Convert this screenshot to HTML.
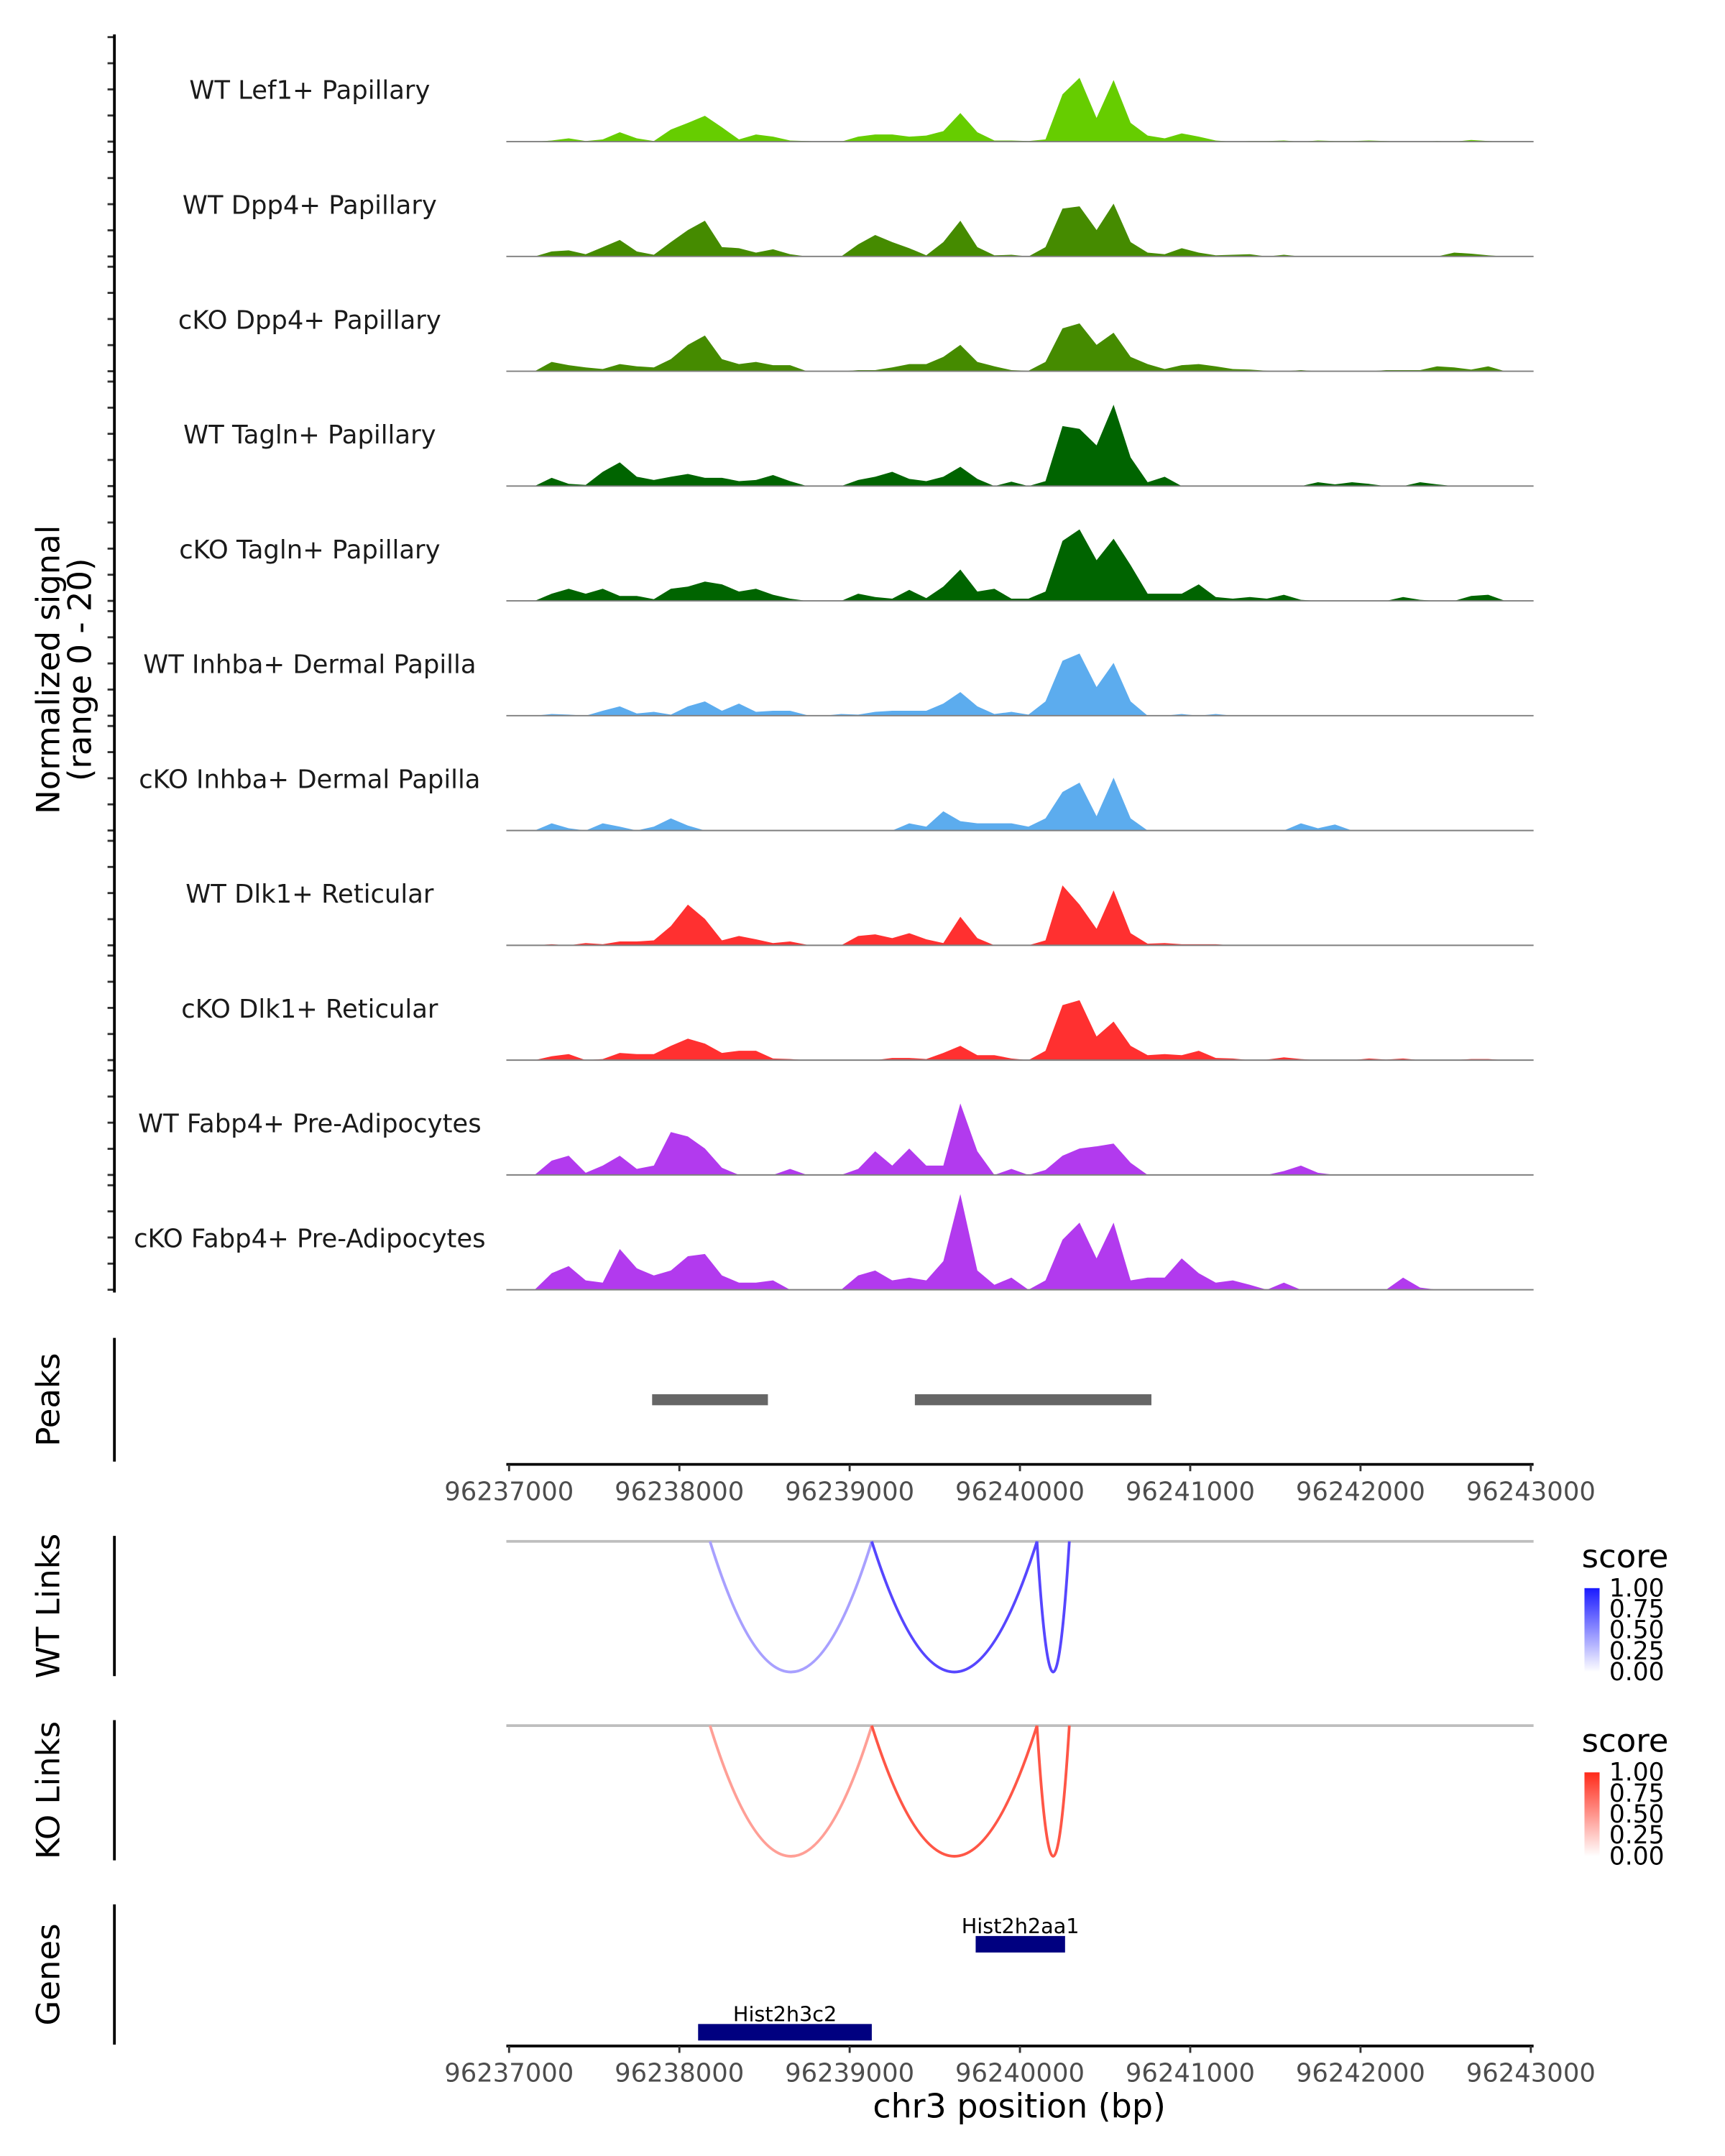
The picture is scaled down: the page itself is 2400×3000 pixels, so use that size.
<!DOCTYPE html>
<html><head><meta charset="utf-8"><style>
html,body{margin:0;padding:0;background:#fff;}
svg{display:block;font-family:"DejaVu Sans","Liberation Sans",sans-serif;}
</style></head><body>
<svg id="chart" width="2400" height="3000" viewBox="0 0 1254 1568" xmlns="http://www.w3.org/2000/svg">
<rect x="0" y="0" width="1254" height="1568" fill="#fff"/>
<g id="tracks"></g>
<line x1="83" y1="25" x2="83" y2="940" stroke="#000" stroke-width="2"/>
<text transform="translate(43,487) rotate(-90)" text-anchor="middle" font-size="23.5" fill="#000">Normalized signal</text>
<text transform="translate(66,487) rotate(-90)" text-anchor="middle" font-size="23.5" fill="#000">(range 0 - 20)</text>
<g id="peaks"></g>
<line x1="83" y1="973" x2="83" y2="1063" stroke="#000" stroke-width="2"/>
<text transform="translate(43,1018) rotate(-90)" text-anchor="middle" font-size="23.5">Peaks</text>
<g id="axis1"></g>
<g id="links"></g>
<line x1="83" y1="1117" x2="83" y2="1219" stroke="#000" stroke-width="2"/>
<text transform="translate(43,1168) rotate(-90)" text-anchor="middle" font-size="23.5">WT Links</text>
<line x1="83" y1="1251" x2="83" y2="1353" stroke="#000" stroke-width="2"/>
<text transform="translate(43,1302) rotate(-90)" text-anchor="middle" font-size="23.5">KO Links</text>
<defs>
<linearGradient id="gBlue" x1="0" y1="1" x2="0" y2="0"><stop offset="0" stop-color="#ffffff"/><stop offset="1" stop-color="#1a1aff"/></linearGradient>
<linearGradient id="gRed" x1="0" y1="1" x2="0" y2="0"><stop offset="0" stop-color="#ffffff"/><stop offset="1" stop-color="#ff2a1a"/></linearGradient>
</defs>
<g id="legends"></g>
<g id="genes"></g>
<line x1="83" y1="1385" x2="83" y2="1487" stroke="#000" stroke-width="2"/>
<text transform="translate(43,1436) rotate(-90)" text-anchor="middle" font-size="23.5">Genes</text>
<g id="axis2"></g>
<text x="741" y="1540" text-anchor="middle" font-size="24">chr3 position (bp)</text>
</svg>
<script>
const trackNames = ["WT Lef1+ Papillary","WT Dpp4+ Papillary","cKO Dpp4+ Papillary","WT Tagln+ Papillary","cKO Tagln+ Papillary","WT Inhba+ Dermal Papilla","cKO Inhba+ Dermal Papilla","WT Dlk1+ Reticular","cKO Dlk1+ Reticular","WT Fabp4+ Pre-Adipocytes","cKO Fabp4+ Pre-Adipocytes"];
const trackColors = ["#66cd00","#458b00","#458b00","#006400","#006400","#5cacee","#5cacee","#ff3030","#ff3030","#b23aee","#b23aee"];
const binStart = 96237000;
const binSize = 100;
const sigLef1 = [0,0,0.2,0.6,0.1,0.4,1.7,0.6,0.1,2.2,3.4,4.7,2.6,0.4,1.3,0.9,0.2,0.1,0,0,0.9,1.3,1.3,0.9,1.1,1.9,5.2,1.7,0.2,0.2,0.1,0.4,8.6,11.6,4.3,11.2,3.4,1.1,0.6,1.5,0.9,0.2,0,0.1,0.1,0.2,0,0.2,0.1,0.1,0.2,0.1,0,0,0.1,0,0.3,0.1,0,0];
const sigWtDpp4 = [0,0,0.9,1.1,0.4,1.7,3,0.9,0.3,2.6,4.8,6.5,1.7,1.5,0.7,1.3,0.4,0,0,0,2.2,3.9,2.6,1.5,0.2,2.6,6.5,1.7,0.2,0.3,0,1.7,8.7,9.1,4.8,9.6,2.6,0.7,0.4,1.5,0.7,0.2,0.3,0.4,0,0.3,0,0,0,0,0,0,0,0,0,0.7,0.5,0.2,0,0];
const sigKoDpp4 = [0,0,1.7,1.1,0.7,0.4,1.3,0.9,0.7,2.2,4.8,6.5,2.2,1.3,1.7,1.1,1.1,0,0,0,0.2,0.2,0.7,1.3,1.3,2.6,4.8,1.7,0.9,0.2,0.1,1.7,7.8,8.7,4.8,7,2.6,1.3,0.4,1.1,1.3,0.9,0.4,0.3,0.1,0,0.2,0,0,0,0,0.2,0.2,0.2,0.9,0.7,0.3,0.9,0,0];
const sigWtTagln = [0,0,1.5,0.4,0.2,2.6,4.3,1.7,1.1,1.7,2.2,1.5,1.5,0.9,1.1,2,0.9,0,0,0,1.1,1.7,2.6,1.3,0.9,1.7,3.5,1.3,0,0.8,0,0.9,10.9,10.4,7.4,14.8,5.2,0.7,1.7,0,0,0,0,0,0,0,0,0.7,0.3,0.7,0.4,0,0,0.7,0.3,0,0,0,0,0];
const sigKoTagln = [0,0,1.3,2.2,1.3,2.2,0.9,0.9,0.3,2.2,2.6,3.5,3,1.7,2.2,1.1,0.4,0,0,0,1.3,0.7,0.4,2,0.5,2.6,5.7,1.7,2.2,0.4,0.4,1.7,10.9,13,7.4,11.3,6.5,1.3,1.3,1.3,3,0.7,0.4,0.7,0.4,1.1,0.2,0,0,0,0,0,0.7,0.2,0,0,0.9,1.1,0,0];
const sigWtInhba = [0,0,0.3,0.2,0,0.9,1.7,0.4,0.7,0.2,1.7,2.6,0.9,2.2,0.7,0.9,0.9,0.1,0,0.3,0.2,0.7,0.9,0.9,0.9,2.2,4.3,1.7,0.3,0.7,0.2,2.6,10,11.3,5.2,9.6,2.6,0,0,0.3,0,0.3,0,0,0,0,0,0,0,0,0,0,0,0,0,0,0,0,0,0];
const sigKoInhba = [0,0,1.3,0.4,0,1.3,0.7,0,0.7,2.2,0.9,0,0,0,0,0,0,0,0,0,0,0,0,1.3,0.7,3.5,1.7,1.3,1.3,1.3,0.7,2.2,7,8.7,2.6,9.6,2.2,0,0,0,0,0,0,0,0,0,1.3,0.4,1.1,0,0,0,0,0,0,0,0,0,0,0];
const sigWtDlk1 = [0,0,0.2,0,0.4,0.2,0.7,0.7,0.9,3.5,7.4,4.8,0.9,1.7,1.1,0.4,0.7,0.1,0,0,1.7,2,1.3,2.2,1.1,0.4,5.2,1.3,0,0,0,0.9,10.9,7.4,3,10,2.2,0.3,0.4,0.2,0.2,0.2,0,0,0,0,0,0,0,0,0,0,0,0,0,0,0,0,0,0];
const sigKoDlk1 = [0,0,0.7,1.1,0,0.2,1.3,1.1,1.1,2.6,3.9,3,1.3,1.7,1.7,0.3,0.2,0,0,0,0,0,0.4,0.4,0.2,1.3,2.6,0.9,0.9,0.3,0,1.7,10,10.9,4.3,7,2.6,0.9,1.1,0.9,1.7,0.4,0.3,0,0.1,0.5,0.2,0,0,0,0.3,0.1,0.3,0,0,0,0.2,0.2,0,0];
const sigWtFabp4 = [0,0,2.6,3.5,0.4,1.7,3.5,1.1,1.7,7.8,7,4.8,1.3,0,0,0,1.1,0,0,0,1.1,4.3,1.7,4.8,1.7,1.7,13,4.3,0,1.1,0,0.9,3.5,4.8,5.2,5.7,2.2,0,0,0,0,0,0,0,0,0.7,1.7,0.4,0,0,0,0,0,0,0,0,0,0,0,0];
const sigKoFabp4 = [0,0,3,4.3,1.7,1.3,7.4,3.9,2.6,3.5,6.1,6.5,2.6,1.3,1.3,1.7,0,0,0,0,2.6,3.5,1.7,2.2,1.7,5.2,17.4,3.5,0.9,2.2,0,1.7,9.1,12.2,5.7,12.2,1.7,2.2,2.2,5.7,3,1.3,1.7,0.9,0,1.3,0,0,0,0,0,0,2.2,0.4,0,0,0,0,0,0];
const signals = [sigLef1,sigWtDpp4,sigKoDpp4,sigWtTagln,sigKoTagln,sigWtInhba,sigKoInhba,sigWtDlk1,sigKoDlk1,sigWtFabp4,sigKoFabp4];
const xTicks = [96237000,96238000,96239000,96240000,96241000,96242000,96243000];
const peakStarts = [96237840,96239383];
const peakEnds = [96238520,96240772];
const linkStarts = [96238180,96239130,96240100];
const linkEnds = [96239130,96240100,96240290];
const wtScores = [0.3,0.75,0.75];
const koScores = [0.35,0.75,0.75];
const legendTicks = [1.00,0.75,0.50,0.25,0.00];
const geneNames = ["Hist2h2aa1","Hist2h3c2"];
const geneStarts = [96239740,96238110];
const geneEnds = [96240265,96239130];
const geneRows = [0,1];

const NS="http://www.w3.org/2000/svg";
function mk(tag,attrs,parent){const e=document.createElementNS(NS,tag);for(const k in attrs)e.setAttribute(k,attrs[k]);parent.appendChild(e);return e;}
function xs(bp){return 370+(bp-96237000)*0.12383;}
const trackSpacing=83.5, yScale=80/20;
function yBase(i){return 103+i*trackSpacing;}

const gT=document.getElementById('tracks');
signals.forEach((vals,i)=>{
  const b=yBase(i);
  let d='M'+xs(binStart)+','+b;
  vals.forEach((v,j)=>{const x=xs(binStart+(j+0.5)*binSize);d+=' L'+x.toFixed(2)+','+(b-v*yScale).toFixed(2);});
  d+=' L'+xs(binStart+vals.length*binSize)+','+b+' Z';
  const p=mk('path',{d:d,fill:trackColors[i]},gT);
  
  
  const l=mk('line',{x1:368,x2:1115,y1:b,y2:b,stroke:'#7f7f7f','stroke-width':1},gT);
  
  
  const t=mk('text',{x:225,y:b-31,'text-anchor':'middle','font-size':18.5,fill:'#1a1a1a'},gT);
  t.textContent=trackNames[i];
  
  
  for(let k=0;k<=4;k++){
    const ty=b-k*19;
    const tk=mk('line',{x1:78,x2:83,y1:ty,y2:ty,stroke:'#333','stroke-width':1.5},gT);
    
    
  }
});

const gP=document.getElementById('peaks');
peakStarts.forEach((s,i)=>{
  const r=mk('rect',{x:xs(s),y:1014,width:xs(peakEnds[i])-xs(s),height:8,fill:'#666666'},gP);
  
  
});

function axis(id,y){
  const g=document.getElementById(id);
  const a=mk('line',{x1:368,x2:1115,y1:y,y2:y,stroke:'#000','stroke-width':2},g);
  
  
  xTicks.forEach(v=>{
    const x=xs(v);
    const tk=mk('line',{x1:x,x2:x,y1:y,y2:y+5,stroke:'#333','stroke-width':1.5},g);
    
    
    const t=mk('text',{x:x,y:y+26,'text-anchor':'middle','font-size':18.5,fill:'#4d4d4d'},g);
    t.textContent=String(v);
    
    
  });
}
axis('axis1',1065);
axis('axis2',1488);

function mix(c,s){return 'rgb('+c.map(v=>Math.round(255+(v-255)*s)).join(',')+')';}
const gL=document.getElementById('links');
function links(base,depth,scores,col,name){
  const bl=mk('line',{x1:368,x2:1115,y1:base,y2:base,stroke:'#bebebe','stroke-width':2},gL);
  
  
  linkStarts.forEach((s,i)=>{
    const x1=xs(s),x2=xs(linkEnds[i]),m=(x1+x2)/2;
    const p=mk('path',{d:'M'+x1+','+base+' Q'+m+','+(base+2*depth)+' '+x2+','+base,fill:'none',stroke:mix(col,0.15+0.85*scores[i]),'stroke-width':2},gL);
    
    
  });
}
links(1121,95,wtScores,[40,20,255],'wt-link');
links(1255,95,koScores,[255,40,20],'ko-link');

const gG=document.getElementById('legends');
function legend(top,grad,name){
  const t=mk('text',{x:1150,y:top,'font-size':23.5,fill:'#000'},gG);
  t.textContent='score';
  
  
  const r=mk('rect',{x:1152,y:top+15,width:11,height:61,fill:'url(#'+grad+')'},gG);
  
  
  legendTicks.forEach(v=>{
    const y=top+15+(1-v)*61;
    const lt=mk('text',{x:1170,y:y+6,'font-size':18,fill:'#000'},gG);
    lt.textContent=v.toFixed(2);
    
    
  });
}
legend(1140,'gBlue','wt-legend');
legend(1274,'gRed','ko-legend');

const gN=document.getElementById('genes');
geneNames.forEach((n,i)=>{
  const cy=1414+geneRows[i]*64;
  const x1=xs(geneStarts[i]),x2=xs(geneEnds[i]);
  const r=mk('rect',{x:x1,y:cy-6,width:x2-x1,height:12,fill:'#000080'},gN);
  
  
  const t=mk('text',{x:(x1+x2)/2,y:cy-8,'text-anchor':'middle','font-size':15,fill:'#000'},gN);
  t.textContent=n;
  
  
});
</script>
</body></html>
